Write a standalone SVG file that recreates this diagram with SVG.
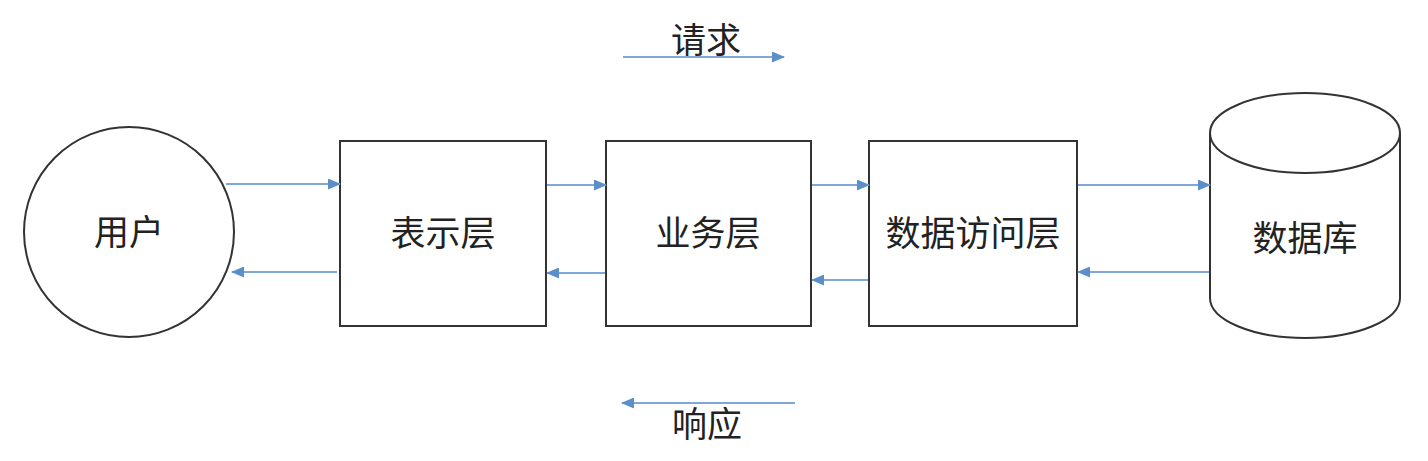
<svg xmlns="http://www.w3.org/2000/svg" width="1428" height="461" viewBox="0 0 1428 461">
<defs>
<marker id="ah" markerWidth="13" markerHeight="11" refX="12" refY="5.5" orient="auto" markerUnits="userSpaceOnUse">
<path d="M0,0 L13,5.5 L0,11 Z" fill="#5b8fc9"/>
</marker>
<style>
.node{fill:#fff;stroke:#333;stroke-width:2}
.lbl{font-family:"Liberation Sans","Noto Sans CJK SC",sans-serif;font-size:35px;fill:#222;text-anchor:middle;dominant-baseline:central}
.cap{font-family:"Liberation Sans","Noto Sans CJK SC",sans-serif;font-size:35px;fill:#222;text-anchor:middle}
.ar{stroke:#7fa8d8;stroke-width:2;fill:none;marker-end:url(#ah)}
</style>
</defs>
<rect width="1428" height="461" fill="#fff"/>
<g id="user"><circle class="node" cx="129" cy="232" r="105"/><text class="lbl" x="129" y="232">用户</text></g>
<g id="presentation"><rect class="node" x="340" y="141" width="206" height="185"/><text class="lbl" x="443" y="233">表示层</text></g>
<g id="business"><rect class="node" x="606" y="141" width="205" height="185"/><text class="lbl" x="708" y="233">业务层</text></g>
<g id="dataaccess"><rect class="node" x="869" y="141" width="208" height="185"/><text class="lbl" x="973" y="233">数据访问层</text></g>
<g id="database">
<path class="node" d="M1210,133 L1210,298 A95,40 0 0 0 1400,298 L1400,133"/>
<ellipse class="node" cx="1305" cy="133" rx="95" ry="40"/>
<text class="lbl" x="1305" y="238">数据库</text>
</g>
<g id="connectors">
<line class="ar" x1="226" y1="184" x2="340" y2="184"/>
<line class="ar" x1="337" y1="272" x2="232" y2="272"/>
<line class="ar" x1="547" y1="185" x2="606" y2="185"/>
<line class="ar" x1="605" y1="273" x2="547" y2="273"/>
<line class="ar" x1="812" y1="185" x2="869" y2="185"/>
<line class="ar" x1="868" y1="280" x2="812" y2="280"/>
<line class="ar" x1="1078" y1="185" x2="1210" y2="185"/>
<line class="ar" x1="1209" y1="272" x2="1078" y2="272"/>
<line class="ar" x1="623" y1="57" x2="784" y2="57"/>
<line class="ar" x1="795" y1="403" x2="622" y2="403"/>
</g>
<g id="labels">
<text class="cap" x="706" y="53">请求</text>
<text class="cap" x="707" y="437">响应</text>
</g>
</svg>
